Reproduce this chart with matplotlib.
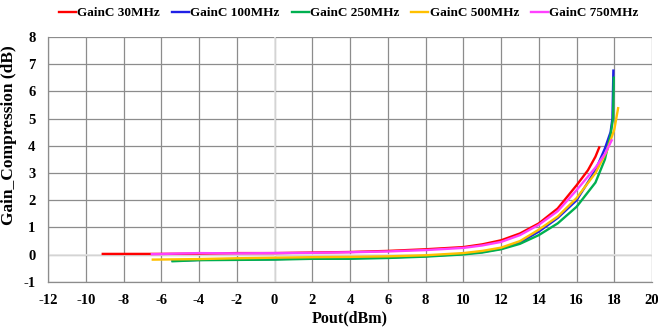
import matplotlib
matplotlib.use("Agg")
import matplotlib.pyplot as plt

# Datos (Pout en dBm, compresion en dB)
x_30 = [-9.1, -6, -4, -2, 0, 2, 4, 6, 8, 10, 11, 12, 13, 14, 15, 16, 16.6, 17.0, 17.2]
y_30 = [0.03, 0.03, 0.04, 0.06, 0.06, 0.08, 0.1, 0.14, 0.2, 0.28, 0.38, 0.53, 0.78, 1.15, 1.7, 2.55, 3.1, 3.6, 3.94]

x_100 = [-5.4, -4, -2, 0, 2, 4, 6, 8, 10, 11, 12, 13, 14, 15, 16, 17, 17.5, 17.8, 17.9, 17.95]
y_100 = [-0.22, -0.19, -0.17, -0.16, -0.13, -0.12, -0.1, -0.05, 0.03, 0.1, 0.22, 0.45, 0.85, 1.35, 2.0, 3.1, 3.9, 4.5, 5.0, 6.76]

x_250 = [-5.4, -4, -2, 0, 2, 4, 6, 8, 10, 11, 12, 13, 14, 15, 16, 17, 17.5, 17.8, 17.93, 17.97]
y_250 = [-0.24, -0.2, -0.19, -0.18, -0.15, -0.15, -0.12, -0.07, 0.01, 0.08, 0.2, 0.4, 0.72, 1.15, 1.76, 2.65, 3.5, 4.4, 5.0, 6.5]

x_500 = [-6.45, -4, -2, 0, 2, 4, 6, 8, 10, 11, 12, 13, 14, 15, 16, 17, 17.6, 18.0, 18.2]
y_500 = [-0.18, -0.16, -0.13, -0.11, -0.09, -0.08, -0.06, -0.02, 0.06, 0.14, 0.26, 0.5, 0.92, 1.4, 2.08, 3.0, 3.8, 4.6, 5.38]

x_750 = [-6.5, -4, -2, 0, 2, 4, 6, 8, 10, 11, 12, 13, 14, 15, 16, 17, 17.5, 17.86]
y_750 = [0.02, 0.06, 0.05, 0.06, 0.07, 0.09, 0.12, 0.17, 0.25, 0.34, 0.47, 0.72, 1.1, 1.6, 2.37, 3.2, 3.7, 4.2]

series = [
    ("GainC 30MHz", x_30, y_30, "#ff0000"),
    ("GainC 100MHz", x_100, y_100, "#1f1fe6"),
    ("GainC 250MHz", x_250, y_250, "#00b050"),
    ("GainC 500MHz", x_500, y_500, "#ffc000"),
    ("GainC 750MHz", x_750, y_750, "#ff40ff"),
]

xticks = list(range(-12, 21, 2))
yticks = list(range(-1, 9))

plt.rcParams["font.family"] = ["Liberation Serif", "DejaVu Serif"]
plt.rcParams["font.weight"] = "bold"
plt.rcParams["axes.unicode_minus"] = False

fig = plt.figure(figsize=(6.58, 3.29), dpi=100)
ax = fig.add_axes([0.073, 0.143, 0.918, 0.745])

for nombre, xs, ys, color in series:
    ax.plot(xs, ys, color=color, lw=1.7, label=nombre, zorder=3)

ax.set_xlim(-12, 20)
ax.set_ylim(-1, 8)
ax.set_xticks(xticks, labels=[str(v) for v in xticks], fontweight="bold", fontsize=10.5)
ax.set_yticks(yticks, labels=[str(v) for v in yticks], fontweight="bold", fontsize=10.5)
ax.grid(True, color="#8c8c8c", lw=0.9, zorder=0)
ax.set_axisbelow(True)
# lineas del cero mas claras
ax.axvline(0, color="#e3e3e3", lw=1.2, zorder=1)
ax.axhline(0, color="#e3e3e3", lw=1.2, zorder=1)

for lado in ["top", "right"]:
    ax.spines[lado].set_visible(False)
for lado in ["left", "bottom"]:
    ax.spines[lado].set_color("#8c8c8c")
    ax.spines[lado].set_linewidth(0.9)
ax.tick_params(length=0, pad=9)

ax.set_xlabel("Pout(dBm)", fontsize=11.5, fontweight="bold", labelpad=2)
ax.set_ylabel("Gain_Compression (dB)", fontsize=12.5, fontweight="bold", labelpad=6)
ax.yaxis.set_label_coords(-0.052, 0.6)

fig.legend(loc="center", bbox_to_anchor=(0.53, 0.96), ncol=5, frameon=False,
           handlelength=1.3, handletextpad=0.1, columnspacing=0.9,
           prop={"weight": "bold", "size": 9.5})

fig.savefig("out.png", dpi=100)
